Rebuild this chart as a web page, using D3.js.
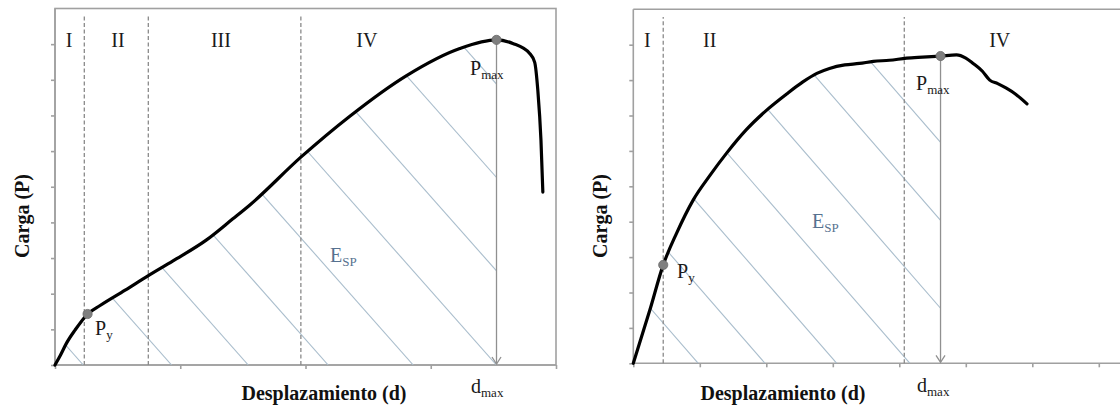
<!DOCTYPE html>
<html><head><meta charset="utf-8">
<script src="https://cdn.jsdelivr.net/npm/d3@7"></script>
<style>
body{margin:0;background:#fff;}
svg{display:block;font-family:"Liberation Serif","Times New Roman",serif;}
</style></head>
<body><svg id="c" width="1120" height="411"></svg>
<script>
// ---------- data ----------
const leftDisp = [0,0.04,0.093,0.16,0.26,0.36,0.56,0.742,0.942,1.21,1.42,1.556,1.963,2.354,2.807,3.232,3.525,3.655,3.79,3.83,3.855,3.88,3.895];
const leftLoad = [0,0.25,0.62,0.98,1.43,1.67,2.10,2.50,2.92,3.51,4.10,4.49,5.83,6.98,8.12,8.88,9.12,9.02,8.74,8.49,7.70,6.30,4.85];
const rightDisp = [0,0.25,0.45,0.65,0.9,1.15,1.4,1.7,2.01,2.3,2.55,2.76,2.95,3.18,3.4,3.61,3.85,4.11,4.35,4.62,4.86,5.0,5.11,5.25,5.36,5.48,5.61,5.75,5.92];
const rightLoad = [0,1.51,2.78,3.67,4.61,5.3,5.93,6.6,7.16,7.6,7.95,8.19,8.33,8.43,8.47,8.53,8.56,8.62,8.65,8.68,8.71,8.62,8.47,8.25,8.0,7.9,7.77,7.6,7.33];
const leftZones = [0.234,0.745,1.963];
const rightZones = [0.45,4.075];
const leftZoneLabels = ["I","II","III","IV"];
const leftZoneLabelX = [0.112,0.503,1.325,2.49];
const rightZoneLabels = ["I","II","IV"];
const rightZoneLabelX = [0.21,1.15,5.51];
const leftYield = [0.26,1.43];
const rightYield = [0.45,2.78];
const leftPeak = [3.525,9.12];
const rightPeak = [4.62,8.68];
const leftHatch = [0.226,0.931,1.543,2.181,2.86,3.525,4.19,4.85,5.51,6.2];
const rightHatch = [0.977,1.98,3.06,4.16,5.34,6.49,7.51,8.6];
const yTicks = d3.range(0,10);
const leftXTicks = [0,1,2,3,4];
const rightXTicks = [0,1,2,3,4,5,6,7];
const xTitle = "Desplazamiento  (d)";
const yTitle = "Carga (P)";

const svg = d3.select("#c");
const AX = "#a0a0a0";

function panel(cfg){
  const g = svg.append("g");
  const x = d3.scaleLinear().domain(cfg.xDomain).range(cfg.xRange);
  const y = d3.scaleLinear().domain([0,10]).range(cfg.yRange);
  const pts = cfg.xs.map((d,i)=>[d,cfg.ys[i]]);

  // frame
  if(cfg.box){
    g.append("rect").attr("x",x.range()[0]).attr("y",y(10)).attr("width",x.range()[1]-x.range()[0])
      .attr("height",y(0)-y(10)).attr("fill","none").attr("stroke",AX).attr("stroke-width",1.6);
  } else {
    g.append("line").attr("x1",x.range()[0]).attr("x2",x.range()[1]).attr("y1",y(10)).attr("y2",y(10))
      .attr("stroke",AX).attr("stroke-width",1.6);
  }
  // axes
  const ya = g.append("g").attr("transform",`translate(${x(0)},0)`)
    .call(d3.axisLeft(y).tickValues(yTicks).tickSize(4).tickFormat(""));
  const xa = g.append("g").attr("transform",`translate(0,${y(0)})`)
    .call(d3.axisBottom(x).tickValues(cfg.xTicks).tickSize(4).tickFormat(""));
  [ya,xa].forEach(a=>{a.selectAll("path,line").attr("stroke",AX).attr("stroke-width",1.6);});
  xa.select(".domain").attr("d",`M${x.range()[0]},0H${x.range()[1]}`);
  ya.select(".domain").attr("d",`M0,${y(0)}V${y(10)}`);

  // hatch clipped under curve up to dmax
  const id = "clip"+cfg.name;
  const under = pts.filter(p=>p[0]<=cfg.peak[0]+1e-9);
  const area = d3.area().x(d=>x(d[0])).y0(y(0)).y1(d=>y(d[1])).curve(d3.curveMonotoneX);
  svg.append("clipPath").attr("id",id).append("path").attr("d",area(under));
  const hg = g.append("g").attr("clip-path",`url(#${id})`);
  const h = y(0)-y(10);
  hg.selectAll("line").data(cfg.hatch).join("line")
    .attr("x1",d=>x(d)).attr("y1",y(0))
    .attr("x2",d=>x(d)-h/cfg.slope).attr("y2",y(10))
    .attr("stroke","#a9bdcc").attr("stroke-width",1.1);

  // zone dashed lines
  g.selectAll(".zone").data(cfg.zones).join("line")
    .attr("x1",d=>x(d)).attr("x2",d=>x(d)).attr("y1",y(0)).attr("y2",y(9.78))
    .attr("stroke","#8a8a8a").attr("stroke-width",1.3).attr("stroke-dasharray","4,2.5");

  // zone labels
  g.selectAll(".zl").data(cfg.zoneLabels).join("text")
    .attr("x",(d,i)=>x(cfg.zoneLabelX[i])).attr("y",y(8.93))
    .attr("text-anchor","middle").attr("font-size",20).attr("fill","#1a1a1a").text(d=>d);

  // dmax vertical arrow
  g.append("line").attr("x1",x(cfg.peak[0])).attr("x2",x(cfg.peak[0]))
    .attr("y1",y(cfg.peak[1])).attr("y2",y(0)-1).attr("stroke","#909090").attr("stroke-width",1.3);
  g.append("path").attr("d",`M${x(cfg.peak[0])-4.5},${y(0)-8}L${x(cfg.peak[0])},${y(0)-1}L${x(cfg.peak[0])+4.5},${y(0)-8}`)
    .attr("fill","none").attr("stroke","#909090").attr("stroke-width",1.3);

  // curve
  const line = d3.line().x(d=>x(d[0])).y(d=>y(d[1])).curve(d3.curveMonotoneX);
  g.append("path").attr("d",line(pts)).attr("fill","none").attr("stroke","#000")
    .attr("stroke-width",3.2).attr("stroke-linejoin","round").attr("stroke-linecap","round");

  // markers
  [cfg.yieldPt,cfg.peak].forEach(p=>{
    g.append("circle").attr("cx",x(p[0])).attr("cy",y(p[1])).attr("r",4.6)
      .attr("fill","#7f7f7f").attr("stroke","#6a6a6a").attr("stroke-width",0.8);
  });

  // labels
  function sub(xp,yp,main,s,color,subSize){
    const t = g.append("text").attr("x",xp).attr("y",yp).attr("font-size",20).attr("fill",color||"#1a1a1a");
    t.append("tspan").text(main);
    t.append("tspan").attr("dy",4).attr("font-size",subSize||13).text(s);
  }
  sub(cfg.pyLabel[0],cfg.pyLabel[1],"P","y");
  sub(cfg.pmLabel[0],cfg.pmLabel[1],"P","max");
  sub(cfg.dmLabel[0],cfg.dmLabel[1],"d","max");
  sub(cfg.eLabel[0],cfg.eLabel[1],"E","SP","#56718f",13);

  // axis titles
  g.append("text").attr("x",cfg.xTitleX).attr("y",400).attr("text-anchor","middle")
    .attr("font-size",20).attr("font-weight","bold").attr("fill","#111").text(xTitle);
  g.append("text").attr("transform",`translate(${cfg.yTitleX},216) rotate(-90)`).attr("text-anchor","middle")
    .attr("font-size",20).attr("font-weight","bold").attr("fill","#111").text(yTitle);
}

panel({name:"L", xDomain:[0,4], xRange:[55,556], yRange:[365,8.5], xs:leftDisp, ys:leftLoad,
  xTicks:leftXTicks, zones:leftZones, zoneLabels:leftZoneLabels, zoneLabelX:leftZoneLabelX,
  yieldPt:leftYield, peak:leftPeak, hatch:leftHatch, slope:1.13, box:true,
  pyLabel:[95,335], pmLabel:[470,75], dmLabel:[471,393], eLabel:[330,262], xTitleX:324, yTitleX:29});

panel({name:"R", xDomain:[0,(1120-633.3)/66.5], xRange:[633.3,1120], yRange:[363.3,9.3], xs:rightDisp, ys:rightLoad,
  xTicks:rightXTicks, zones:rightZones, zoneLabels:rightZoneLabels, zoneLabelX:rightZoneLabelX,
  yieldPt:rightYield, peak:rightPeak, hatch:rightHatch, slope:1.15, box:false,
  pyLabel:[677,278], pmLabel:[916,90], dmLabel:[917,392], eLabel:[812,228], xTitleX:783, yTitleX:607});
</script></body></html>
